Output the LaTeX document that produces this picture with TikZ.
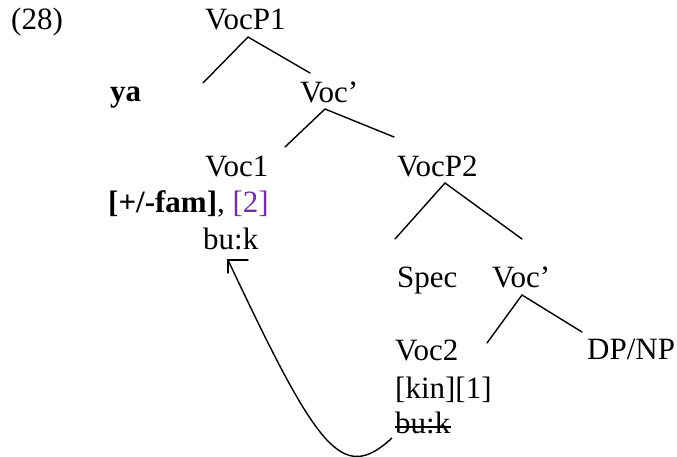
\documentclass[tikz,border=0pt]{standalone}
\usepackage{fontspec}
\setmainfont{Liberation Serif}
\usetikzlibrary{calc}
\definecolor{vocpurple}{HTML}{7030A0}
\begin{document}
\begin{tikzpicture}[x=1pt,y=-1pt,
  lbl/.style={anchor=base west, inner sep=0pt, font=\fontsize{31}{36}\selectfont},
  branch/.style={line width=1.4pt, line cap=round},
  movearrow/.style={line width=1.4pt}]
\useasboundingbox (0,0) rectangle (677,457);
% labels
\node[lbl] (ex)    at (11,30)  {(28)};
\node[lbl] (vocp1) at (205,30) {VocP1};
\node[lbl] (ya)    at (110,102) {\textbf{ya}};
\node[lbl] (vocb1) at (300,103) {Voc’};
\node[lbl] (voc1)  at (205,177) {Voc1};
\node[lbl] (feat1) at (108,213) {\textbf{[+/-fam]}, \textcolor{vocpurple}{[2]}};
\node[lbl] (buk1)  at (203,249) {bu:k};
\node[lbl] (vocp2) at (397,177) {VocP2};
\node[lbl] (spec)  at (397,287) {Spec};
\node[lbl] (vocb2) at (492,287) {Voc’};
\node[lbl] (voc2)  at (395,360) {Voc2};
\node[lbl] (dpnp)  at (587,359) {DP/NP};
\node[lbl] (feat2) at (395,398) {[kin][1]};
\node[lbl] (buk2)  at (395,433) {bu:k};
% strike-through
\draw[line width=1.3pt] ($(buk2.base west)+(0,-6)$) -- ($(buk2.base east)+(0,-6)$);
% branch points
\coordinate (a1) at (248,37);  \coordinate (a1l) at (203,83);  \coordinate (a1r) at (310,73);
\coordinate (a2) at (325,109); \coordinate (a2l) at (285,147); \coordinate (a2r) at (394,137);
\coordinate (a3) at (445,183); \coordinate (a3l) at (395,239); \coordinate (a3r) at (522,239);
\coordinate (a4) at (522,295); \coordinate (a4l) at (487,343); \coordinate (a4r) at (582,332);
\draw[branch] (a1l) -- (a1) -- (a1r);
\draw[branch] (a2l) -- (a2) -- (a2r);
\draw[branch] (a3l) -- (a3) -- (a3r);
\draw[branch] (a4l) -- (a4) -- (a4r);
% movement arrow
\coordinate (mvS) at (392,438);
\coordinate (mvT) at (228,260);
\draw[movearrow] (mvS) .. controls (342,484) and (318,451) .. (mvT);
\draw[movearrow, line cap=round] ($(mvT)+(20,0)$) -- (mvT) -- ($(mvT)+(0,13)$);
\end{tikzpicture}
\end{document}
